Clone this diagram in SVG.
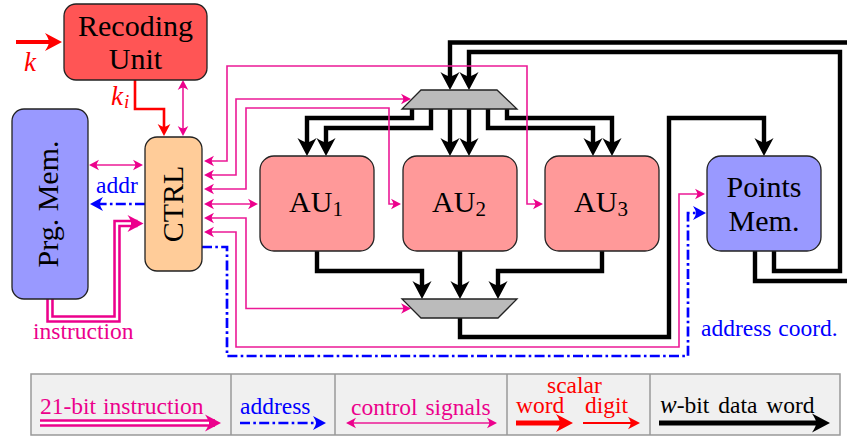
<svg xmlns="http://www.w3.org/2000/svg" width="847" height="437" viewBox="0 0 847 437">
<style>
text{font-family:"Liberation Serif","Times New Roman",serif}
.t{font-size:30px;fill:#000;text-anchor:middle}
.s{font-size:23.5px}
.n{stroke:#222;stroke-width:1.3}
.l{fill:none}
.d{stroke:#000;stroke-width:4.4;marker-end:url(#ab)}
.p{stroke:#ec1a96;stroke-width:1.6;marker-start:url(#ap);marker-end:url(#ap)}
.b{stroke:#00f;stroke-width:2.7;stroke-dasharray:10 3.3 2.6 3.3;marker-end:url(#ac)}
.io{stroke:#ec008c;stroke-width:7.5;marker-end:url(#ai)}
.iw{stroke:#fff;stroke-width:2.4}
.leg{fill:#f0f0f0;stroke:#999;stroke-width:1.5}
</style>
<defs>
<path id="h" d="M0 0L-1-.53Q-.78-.2-.76 0Q-.78 .2-1 .53Z"/>
<marker id="ab" markerUnits="userSpaceOnUse" markerWidth="1" markerHeight="1" overflow="visible" orient="auto"><use href="#h" fill="#000" transform="translate(6) scale(18)"/></marker>
<marker id="ar" markerUnits="userSpaceOnUse" markerWidth="1" markerHeight="1" overflow="visible" orient="auto"><use href="#h" fill="#f00" transform="translate(6) scale(17)"/></marker>
<marker id="arm" markerUnits="userSpaceOnUse" markerWidth="1" markerHeight="1" overflow="visible" orient="auto"><use href="#h" fill="#f00" transform="translate(4) scale(12)"/></marker>
<marker id="ap" markerUnits="userSpaceOnUse" markerWidth="1" markerHeight="1" overflow="visible" orient="auto-start-reverse"><use href="#h" fill="#ec008c" transform="translate(3) scale(10)"/></marker>
<marker id="ac" markerUnits="userSpaceOnUse" markerWidth="1" markerHeight="1" overflow="visible" orient="auto"><use href="#h" fill="#00f" transform="translate(4) scale(13)"/></marker>
<marker id="ai" markerUnits="userSpaceOnUse" markerWidth="1" markerHeight="1" overflow="visible" orient="auto"><use href="#h" fill="#ec008c" transform="translate(6) scale(16)"/></marker>
</defs>
<g id="connectors" class="l">
<path class="d" d="M847 42.500H450V84"/>
<path class="d" d="M774 251V271H840V52H469V84"/>
<path class="d" d="M412 109V118H307V150"/>
<path class="d" d="M431 109V128H326V150"/>
<path class="d" d="M450 109V150"/>
<path class="d" d="M469 109V150"/>
<path class="d" d="M488 109V128H593V150"/>
<path class="d" d="M507 109V118H612V150"/>
<path class="d" d="M317 251V271H422V293"/>
<path class="d" d="M460 251V293"/>
<path class="d" d="M602 251V271H498V293"/>
<path class="d" d="M460 318V337H669V118H764V150"/>
<path stroke="#000" stroke-width="4.4" d="M755 251V281H847"/>
<path stroke="#f00" stroke-width="4" marker-end="url(#ar)" d="M16 42H56"/>
<path stroke="#f00" stroke-width="2.6" marker-end="url(#arm)" d="M135 80V109H164V132"/>
<path class="p" d="M183 83V133"/>
<path class="p" d="M92 165H140"/>
<path class="p" d="M207 161H227V66H527V204H540"/>
<path class="p" d="M207 175H236V99H408"/>
<path class="p" d="M207 189H246V108H389V204H398"/>
<path class="p" d="M207 204H255"/>
<path class="p" d="M207 218H246V308.500H408"/>
<path class="p" d="M207 232H236V347H679V194H702"/>
<path class="b" d="M202 247H227V356H688V213H702"/>
<path class="b" d="M145 204H94"/>
<path class="io" d="M50 299V319H117V223.500H137.500"/>
<path class="iw" d="M50 299V319H117V223.500H131"/>
</g>
<g id="recoding-unit"><rect class="n" x="64" y="4" width="143" height="76" rx="12" fill="#f55"/><text class="t" x="135.500" y="36">Recoding</text><text class="t" x="135.500" y="69">Unit</text></g>
<g id="prg-mem"><rect class="n" x="12" y="109" width="76" height="190" rx="12" fill="#99f"/><text class="t" transform="translate(58 204) rotate(-90)">Prg. Mem.</text></g>
<g id="ctrl"><rect class="n" x="145" y="137" width="57" height="134" rx="12" fill="#fc9"/><text class="t" transform="translate(183 204) rotate(-90)">CTRL</text></g>
<g id="au1"><rect class="n" x="260" y="156" width="114" height="95" rx="14" fill="#f99"/><text class="t" x="316" y="212">AU<tspan dy="4" font-size="21">1</tspan></text></g>
<g id="au2"><rect class="n" x="403" y="156" width="114" height="95" rx="14" fill="#f99"/><text class="t" x="459" y="212">AU<tspan dy="4" font-size="21">2</tspan></text></g>
<g id="au3"><rect class="n" x="545" y="156" width="114" height="95" rx="14" fill="#f99"/><text class="t" x="601" y="212">AU<tspan dy="4" font-size="21">3</tspan></text></g>
<g id="points-mem"><rect class="n" x="707" y="156" width="114" height="95" rx="14" fill="#99f"/><text class="t" x="764" y="197">Points</text><text class="t" x="764" y="231">Mem.</text></g>
<g id="mux-top"><polygon class="n" points="421,90 497,90 517,109 402,109" fill="#bbb"/></g>
<g id="mux-bottom"><polygon class="n" points="402,299 517,299 498,318 421,318" fill="#bbb"/></g>
<g id="labels">
<text x="24" y="71" font-size="27" font-style="italic" fill="#f00">k</text>
<text x="111" y="105" font-size="27" font-style="italic" fill="#f00">k<tspan dx="1" dy="3" font-size="19">i</tspan></text>
<text class="s" x="96" y="193" fill="#00f">addr</text>
<text class="s" x="33" y="339" fill="#ec008c">instruction</text>
<text class="s" x="701" y="336" fill="#00f" word-spacing="1">address coord.</text>
</g>
<g id="legend" class="l">
<rect class="leg" x="31" y="374" width="809" height="61"/>
<path stroke="#999" stroke-width="1.5" d="M231 374V435M335 374V435M507 374V435M650 374V435"/>
<path class="io" d="M40 423H215"/>
<path class="iw" d="M40 423H209"/>
<path class="b" d="M240 423H322"/>
<path class="p" d="M349 423H494"/>
<path stroke="#f00" stroke-width="5" marker-end="url(#ar)" d="M516 423H567"/>
<path stroke="#f00" stroke-width="2.2" marker-end="url(#arm)" d="M583 423H636"/>
<path stroke="#000" stroke-width="5" marker-end="url(#ab)" d="M659 423H824"/>
<g font-size="23.5">
<text class="s" x="40" y="414" fill="#ec008c" word-spacing="1">21-bit instruction</text>
<text class="s" x="240" y="414" fill="#00f">address</text>
<text class="s" x="351" y="415" fill="#ec008c" word-spacing="2">control signals</text>
<text class="s" x="547" y="393" fill="#f00">scalar</text>
<text class="s" x="516" y="413" fill="#f00">word</text>
<text class="s" x="585" y="413" fill="#f00">digit</text>
<text class="s" x="660" y="413" fill="#000" word-spacing="3"><tspan font-style="italic" font-size="25">w</tspan>-bit data word</text>
</g>
</g>
</svg>
